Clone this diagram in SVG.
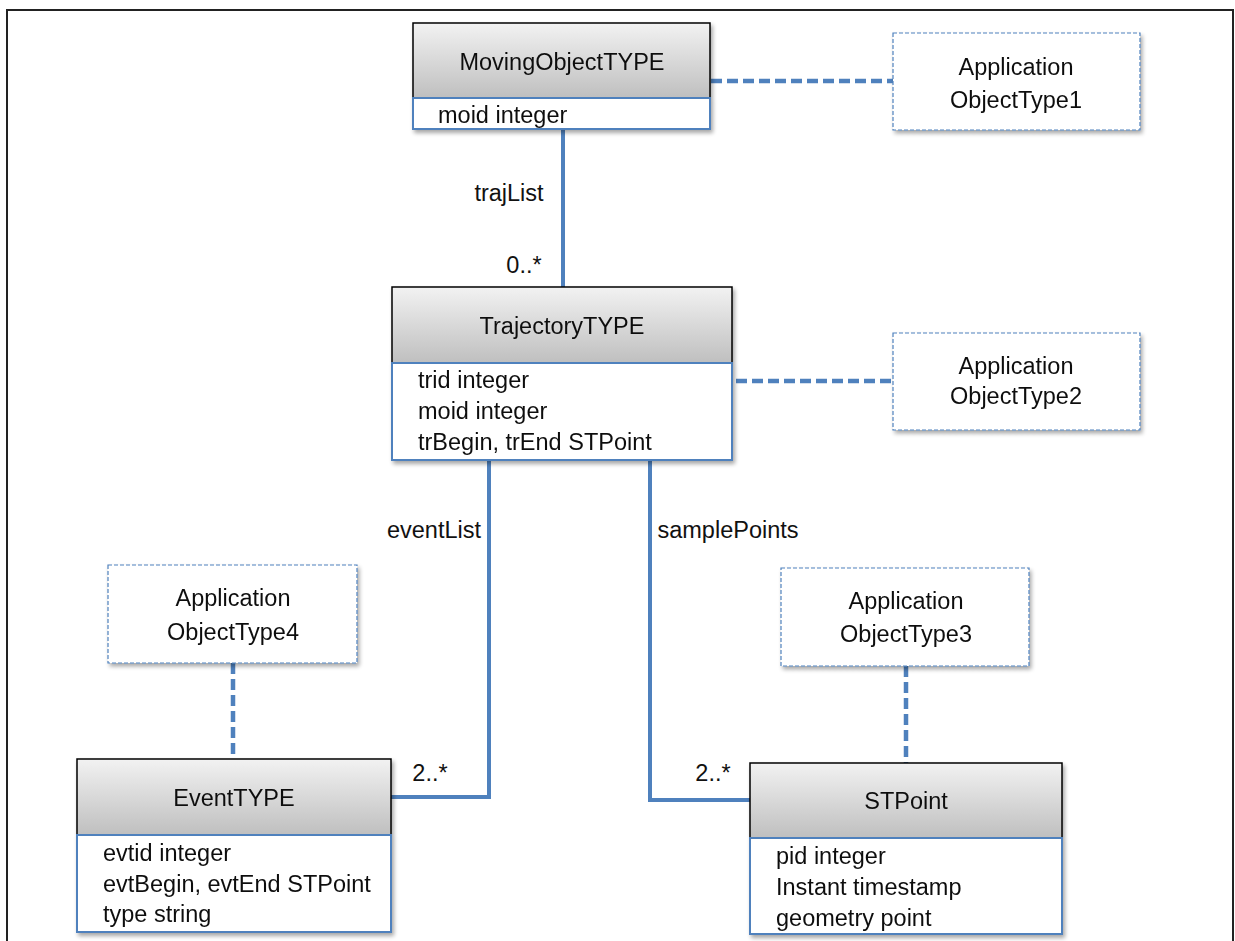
<svg xmlns="http://www.w3.org/2000/svg" width="1235" height="941" viewBox="0 0 1235 941">
<defs>
<linearGradient id="hg" x1="0" y1="0" x2="0" y2="1">
<stop offset="0" stop-color="#f2f2f2"/>
<stop offset="1" stop-color="#bfbfbf"/>
</linearGradient>
<filter id="sh" x="-5%" y="-5%" width="115%" height="120%">
<feGaussianBlur in="SourceAlpha" stdDeviation="2"/>
<feOffset dx="2" dy="3" result="b"/>
<feComponentTransfer><feFuncA type="linear" slope="0.35"/></feComponentTransfer>
<feMerge><feMergeNode/><feMergeNode in="SourceGraphic"/></feMerge>
</filter>
</defs>
<style>
text{font-family:"Liberation Sans",Arial,sans-serif;font-size:23.5px;fill:#111}
.t{text-anchor:middle}
.hd{fill:url(#hg);stroke:#000;stroke-width:1.5}
.at{fill:#fff;stroke:#4f81bd;stroke-width:2}
.ap{fill:#fff;stroke:#4f81bd;stroke-width:1.2;stroke-dasharray:4 2}
.ln{fill:none;stroke:#4f81bd;stroke-width:4}
.dl{fill:none;stroke:#4f81bd;stroke-width:4.5;stroke-dasharray:11 5}
</style>
<rect x="0" y="0" width="1235" height="941" fill="#fff"/>
<path d="M7 941 V10 H1233 V941" fill="none" stroke="#222" stroke-width="2"/>

<g id="connectors">
<line class="ln" x1="563" y1="129" x2="563" y2="287"/>
<polyline class="ln" points="489,460 489,797 391,797"/>
<polyline class="ln" points="650,460 650,800 750,800"/>
<line class="dl" x1="711" y1="81" x2="893" y2="81"/>
<line class="dl" x1="736" y1="381" x2="893" y2="381"/>
<line class="dl" x1="233" y1="663" x2="233" y2="759"/>
<line class="dl" x1="906" y1="666" x2="906" y2="763"/>
<text x="509" y="201" class="t">trajList</text>
<text x="524" y="273" class="t">0..*</text>
<text x="434" y="538" class="t">eventList</text>
<text x="728" y="538" class="t">samplePoints</text>
<text x="430" y="781" class="t">2..*</text>
<text x="713" y="781" class="t">2..*</text>
</g>

<g id="MovingObjectTYPE" filter="url(#sh)">
<rect class="hd" x="413" y="23" width="297" height="75"/>
<rect class="at" x="413" y="98" width="297" height="31"/>
<text x="562" y="70" class="t">MovingObjectTYPE</text>
<text x="438" y="123">moid integer</text>
</g>

<g id="TrajectoryTYPE" filter="url(#sh)">
<rect class="hd" x="392" y="287" width="340" height="76"/>
<rect class="at" x="392" y="363" width="340" height="97"/>
<text x="562" y="334" class="t">TrajectoryTYPE</text>
<text x="418" y="388">trid integer</text>
<text x="418" y="419">moid integer</text>
<text x="418" y="450">trBegin, trEnd STPoint</text>
</g>

<g id="EventTYPE" filter="url(#sh)">
<rect class="hd" x="77" y="759" width="314" height="76"/>
<rect class="at" x="77" y="835" width="314" height="97"/>
<text x="234" y="806" class="t">EventTYPE</text>
<text x="103" y="861">evtid integer</text>
<text x="103" y="892">evtBegin, evtEnd STPoint</text>
<text x="103" y="922">type string</text>
</g>

<g id="STPoint" filter="url(#sh)">
<rect class="hd" x="750" y="763" width="312" height="75"/>
<rect class="at" x="750" y="838" width="312" height="96"/>
<text x="906" y="809" class="t">STPoint</text>
<text x="776" y="864">pid integer</text>
<text x="776" y="895">Instant timestamp</text>
<text x="776" y="926">geometry point</text>
</g>

<g id="App1" filter="url(#sh)">
<rect class="ap" x="893" y="33" width="247" height="97"/>
<text x="1016" y="75" class="t">Application</text>
<text x="1016" y="108" class="t">ObjectType1</text>
</g>

<g id="App2" filter="url(#sh)">
<rect class="ap" x="893" y="333" width="247" height="97"/>
<text x="1016" y="374" class="t">Application</text>
<text x="1016" y="404" class="t">ObjectType2</text>
</g>

<g id="App4" filter="url(#sh)">
<rect class="ap" x="108" y="565" width="249" height="98"/>
<text x="233" y="606" class="t">Application</text>
<text x="233" y="640" class="t">ObjectType4</text>
</g>

<g id="App3" filter="url(#sh)">
<rect class="ap" x="781" y="568" width="248" height="98"/>
<text x="906" y="609" class="t">Application</text>
<text x="906" y="642" class="t">ObjectType3</text>
</g>
</svg>
